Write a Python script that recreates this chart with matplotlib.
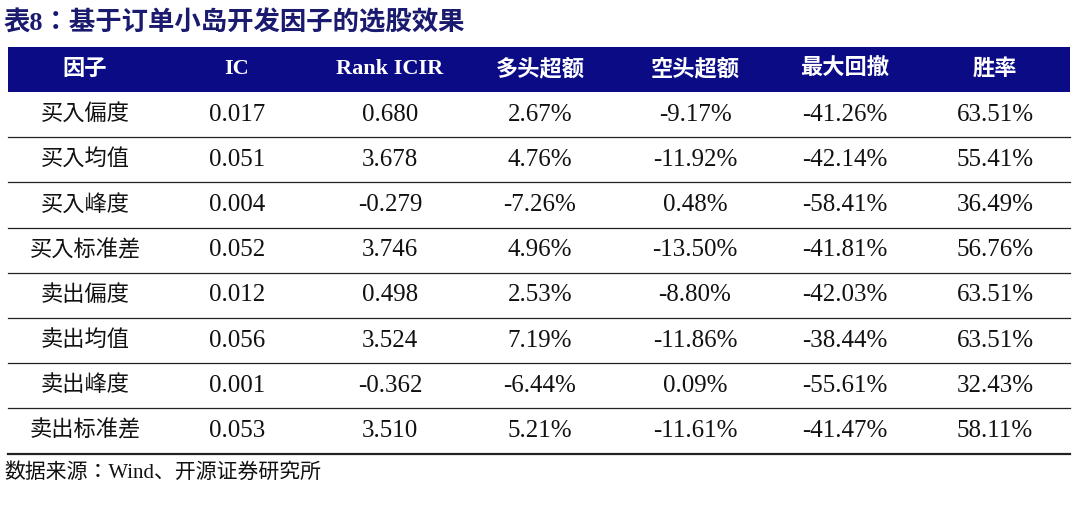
import matplotlib.pyplot as plt
from matplotlib.patches import Rectangle

title = "表8：基于订单小岛开发因子的选股效果"
headers = ["因子", "IC", "Rank ICIR", "多头超额", "空头超额", "最大回撤", "胜率"]
factors = ["买入偏度", "买入均值", "买入峰度", "买入标准差", "卖出偏度", "卖出均值", "卖出峰度", "卖出标准差"]
ic = ["0.017", "0.051", "0.004", "0.052", "0.012", "0.056", "0.001", "0.053"]
rank_icir = ["0.680", "3.678", "-0.279", "3.746", "0.498", "3.524", "-0.362", "3.510"]
long_excess = ["2.67%", "4.76%", "-7.26%", "4.96%", "2.53%", "7.19%", "-6.44%", "5.21%"]
short_excess = ["-9.17%", "-11.92%", "0.48%", "-13.50%", "-8.80%", "-11.86%", "0.09%", "-11.61%"]
max_drawdown = ["-41.26%", "-42.14%", "-58.41%", "-41.81%", "-42.03%", "-38.44%", "-55.61%", "-41.47%"]
win_rate = ["63.51%", "55.41%", "36.49%", "56.76%", "63.51%", "63.51%", "32.43%", "58.11%"]
source = "数据来源：Wind、开源证券研究所"

CJK = ["Liberation Serif", "Noto Sans CJK SC", "Noto Sans CJK JP", "Noto Sans CJK TC", "DejaVu Sans"]
SERIF = ["Liberation Serif", "DejaVu Serif"]
NAVY = "#0b0b86"

fig = plt.figure(figsize=(10.8, 5.07), dpi=100)
ax = fig.add_axes([0, 0, 1, 1])
ax.set_xlim(0, 1080)
ax.set_ylim(507, 0)
ax.axis("off")

ax.text(4, 23, title, fontsize=19, fontweight="bold", color="#1a1a6e",
        fontfamily=CJK, va="center", ha="left")

left, right = 8, 1070
top, head_h, row_h = 47, 45, 45.2
col_x = [85, 237, 390, 540, 695, 845, 995]

ax.add_patch(Rectangle((left, top), right - left, head_h, color=NAVY, lw=0))
for x, h in zip(col_x, headers):
    ax.text(x, top + head_h / 2, h, color="white", fontsize=16, fontweight="bold",
            fontfamily=CJK, ha="center", va="center")

columns = [factors, ic, rank_icir, long_excess, short_excess, max_drawdown, win_rate]
y0 = top + head_h
for i in range(len(factors)):
    yc = y0 + row_h * (i + 0.5)
    for j, (x, col) in enumerate(zip(col_x, columns)):
        ax.text(x, yc, col[i], fontsize=16 if j == 0 else 18, color="#111111",
                fontfamily=CJK if j == 0 else SERIF, ha="center", va="center")
    yl = y0 + row_h * (i + 1)
    ax.plot([left, right], [yl, yl], color="#222222", lw=1.6 if i == len(factors) - 1 else 0.9)

ax.text(4, 473, source, fontsize=15, color="#111111", fontfamily=CJK,
        ha="left", va="center")

fig.savefig("out.png", dpi=100)
